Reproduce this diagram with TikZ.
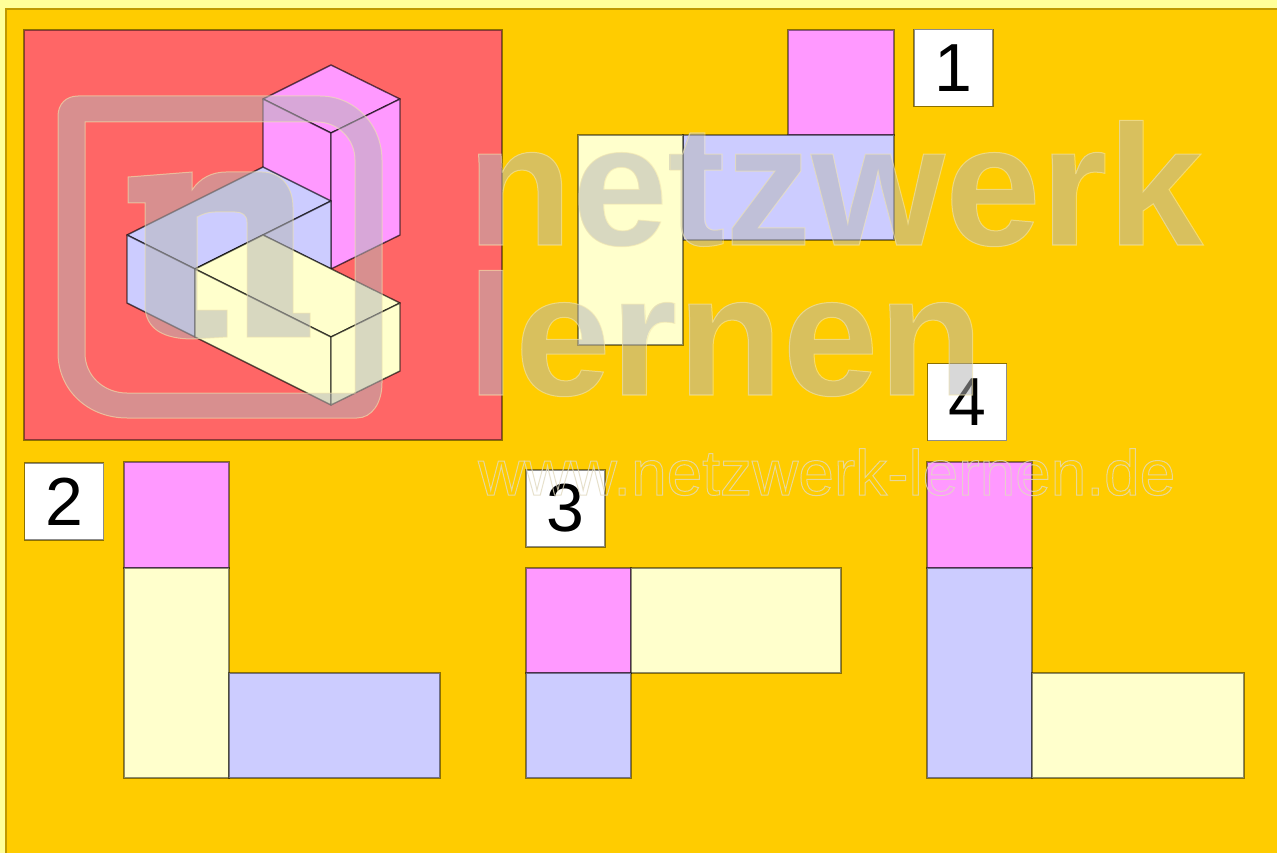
\documentclass[tikz,border=0pt]{standalone}
\usepackage{fontspec}
\setmainfont{Liberation Sans}
\usepackage{xcolor}
\usetikzlibrary{positioning}
\definecolor{strip}{HTML}{FFFF99}
\definecolor{ground}{HTML}{FFCC00}
\definecolor{rosy}{HTML}{FF6666}
\definecolor{pinkface}{HTML}{FF99FF}
\definecolor{blueface}{HTML}{CCCCFF}
\definecolor{yellowface}{HTML}{FFFFCC}
\definecolor{markgray}{HTML}{B5B5B5}
\definecolor{markline}{HTML}{F2E6B0}
\definecolor{urlline}{HTML}{E2DAC0}
\newcommand{\outlined}{\special{pdf:code 1 Tr 1 w}}

\begin{document}
\begin{tikzpicture}[
  x=1pt, y=-1pt,
  netline/.style={draw=black, draw opacity=.45, line width=1.4pt},
  cubeline/.style={draw=black, draw opacity=.65, line width=1.4pt, line join=round},
  pinkpart/.style={netline, fill=pinkface},
  bluepart/.style={netline, fill=blueface},
  yellowpart/.style={netline, fill=yellowface},
  numberbox/.style={netline, fill=white, minimum width=79pt, minimum height=77pt,
    inner sep=0pt, font=\fontsize{68pt}{68pt}\selectfont},
  bigmark/.style={anchor=base west, inner sep=0pt, text=markgray, opacity=.52,
    font=\fontsize{172pt}{172pt}\selectfont\bfseries},
  bigedge/.style={anchor=base west, inner sep=0pt, text=markline, opacity=.6,
    font=\fontsize{172pt}{172pt}\selectfont\bfseries\outlined},
  urlmark/.style={anchor=base west, inner sep=0pt, text=urlline, opacity=.8,
    font=\fontsize{64pt}{64pt}\selectfont\outlined},
  logomark/.style={fill=markgray, fill opacity=.52, draw=markline, draw opacity=.6,
    line width=1pt, even odd rule}
]
\useasboundingbox (0,0) rectangle (1277,853);
\clip (0,0) rectangle (1277,853);

% ground
\fill[strip] (0,0) rectangle (1277,853);
\draw[draw=black!25!ground, fill=ground, line width=1.5pt] (6,9) rectangle (1290,870);

% solid
\draw[netline, fill=rosy] (24,30) rectangle (502,440);
\draw[cubeline, fill=pinkface] (331,65) -- (400,99) -- (331,133) -- (263,99) -- cycle;
\draw[cubeline, fill=pinkface] (263,99) -- (331,133) -- (331,269) -- (263,235) -- cycle;
\draw[cubeline, fill=pinkface] (331,133) -- (400,99) -- (400,235) -- (331,269) -- cycle;
\draw[cubeline, fill=blueface] (263,167) -- (331,201) -- (195,269) -- (127,235) -- cycle;
\draw[cubeline, fill=blueface] (331,201) -- (331,269) -- (263,235) -- (195,269) -- cycle;
\draw[cubeline, fill=blueface] (127,235) -- (195,269) -- (195,337) -- (127,303) -- cycle;
\draw[cubeline, fill=yellowface] (195,269) -- (263,235) -- (400,303) -- (331,337) -- cycle;
\draw[cubeline, fill=yellowface] (195,269) -- (331,337) -- (331,405) -- (195,337) -- cycle;
\draw[cubeline, fill=yellowface] (331,337) -- (400,303) -- (400,371) -- (331,405) -- cycle;

% net 1
\draw[pinkpart] (788,30) rectangle (894,135);
\draw[bluepart] (683,135) rectangle (894,240);
\draw[yellowpart] (578,135) rectangle (683,345);
\node[numberbox] (one) at (953.5,68) {1};

% net 2
\draw[pinkpart] (124,462) rectangle (229,568);
\draw[yellowpart] (124,568) rectangle (229,778);
\draw[bluepart] (229,673) rectangle (440,778);
\node[numberbox] (two) at (64,501.5) {2};

% net 3
\draw[pinkpart] (526,568) rectangle (631,673);
\draw[yellowpart] (631,568) rectangle (841,673);
\draw[bluepart] (526,673) rectangle (631,778);
\node[numberbox] (three) at (565.5,508.5) {3};

% net 4
\draw[pinkpart] (927,462) rectangle (1032,568);
\draw[bluepart] (927,568) rectangle (1032,778);
\draw[yellowpart] (1032,673) rectangle (1244,778);
\node[numberbox] (four) at (967,402) {4};

% logo
\draw[logomark]
  (78,96) -- (320,96) .. controls (355,96) and (382,125) .. (382,160)
  -- (382,383) .. controls (382,403) and (372,418) .. (357,418)
  -- (127,418) .. controls (88,418) and (58,390) .. (58,353)
  -- (58,116) .. controls (58,104) and (66,96) .. (78,96) -- cycle
  (85,122) -- (85,353) .. controls (85,376) and (104,393) .. (127,393)
  -- (355,393) -- (355,160) .. controls (355,139) and (338,122) .. (317,122) -- cycle;
\draw[logomark]
  (128,177) -- (192,172) -- (192,190) .. controls (200,178) and (212,172) .. (226,172)
  -- (262,172) .. controls (282,172) and (293,188) .. (293,207)
  -- (293,313) -- (310,313) -- (310,337) -- (247,337) -- (247,222)
  .. controls (247,215) and (242,212) .. (235,212) -- (215,212)
  .. controls (208,212) and (203,214) .. (197,217) -- (197,310) -- (227,310) -- (227,337)
  -- (193,339) .. controls (165,339) and (145,330) .. (145,305)
  -- (145,203) -- (128,203) -- cycle;

% lettering
\node[bigmark] (upper) at (467,245) {netzwerk};
\node[bigmark] (lower) at (467,395) {lernen};
\node[bigedge] (upperedge) at (467,245) {netzwerk};
\node[bigedge] (loweredge) at (467,395) {lernen};
\node[urlmark] (url) at (478,495) {www.netzwerk-lernen.de};
\end{tikzpicture}
\end{document}
